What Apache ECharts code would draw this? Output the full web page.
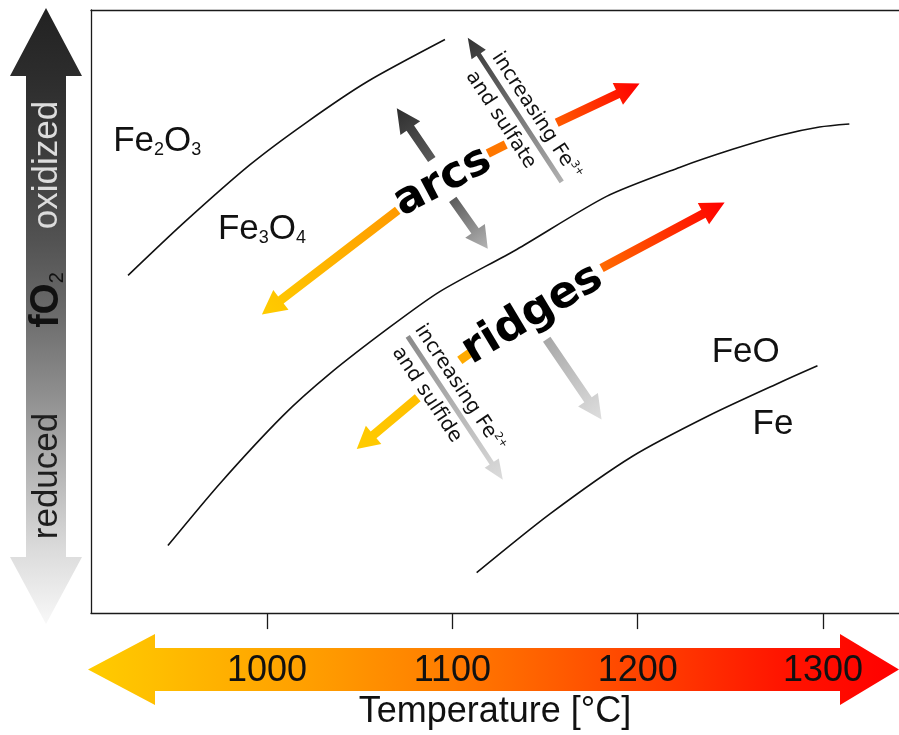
<!DOCTYPE html>
<html>
<head>
<meta charset="utf-8">
<script src="https://cdn.jsdelivr.net/npm/echarts@6/dist/echarts.min.js"></script>
<style>
  html, body { margin: 0; padding: 0; background: #ffffff; }
  #chart { width: 899px; height: 735px; }
</style>
</head>
<body>
<div id="chart"></div>
<script>
// Iron–oxygen buffer curves in temperature / relative log fO2 space.
// y axis: relative log fO2, 0 = most reduced, 100 = most oxidized.
const tempTicks = [1000, 1100, 1200, 1300];
const tempRange = [905, 1341];
const fo2Range = [0, 100];

// Buffer curves, points are [temperature °C, relative log fO2]
const hmBuffer = [[925, 56.0], [955, 64.7], [991, 74.4], [1021, 81.3], [1054, 88.1], [1096, 95.1]];
const mwBuffer = [[946.5, 11.2], [974.6, 21.5], [1008.5, 32.7], [1033.9, 39.7], [1066.2, 47.4], [1093.2, 53.3],
                  [1134.7, 60.3], [1183.2, 69.1], [1222.6, 73.9], [1251.2, 76.9], [1276.5, 79.2], [1298.1, 80.6], [1314.2, 81.1]];
const wiBuffer = [[1113.1, 6.7], [1152.5, 16.4], [1197.2, 26.0], [1238.8, 32.8], [1276.5, 38.2], [1297.0, 41.0]];

// Stability field names: [rich text, T, fO2]
const phaseLabels = [
  ['{m|Fe}{s|2}{m|O}{s|3}', 917.0, 78.3],
  ['{m|Fe}{s|3}{m|O}{s|4}', 973.5, 63.7],
  ['{m|FeO}', 1239.9, 43.2],
  ['{m|Fe}', 1262.0, 31.3]
];

// Magma-type labels: [text, T, fO2, rotation in degrees]
const settingLabels = [
  ['arcs', 1094.8, 71.5, 28],
  ['ridges', 1143.3, 49.5, 31]
];

// Trend arrows: [name, tail T, tail fO2, tip T, tip fO2]
const trendArrows = [
  ['arcsHot',      1156.3, 81.3, 1201.0, 87.8],
  ['arcsCool',     1070.5, 66.8,  997.2, 49.5],
  ['arcsOx',       1088.9, 75.2, 1070.0, 83.7],
  ['arcsRed',      1100.2, 68.6, 1119.1, 60.4],
  ['fe3',          1159.0, 71.5, 1108.3, 95.4],
  ['ridgesHot',    1180.5, 57.2, 1246.9, 68.1],
  ['ridgesCool',   1081.3, 35.7, 1048.4, 27.2],
  ['ridgesRed',    1150.9, 45.4, 1180.5, 32.1],
  ['fe2',          1075.9, 45.9, 1127.2, 22.1]
];
// Short connector dashes: [name, T0, fO2_0, T1, fO2_1]
const connectors = [
  ['arcsDash',   1119.1, 76.2, 1128.8, 77.7],
  ['ridgesDash', 1104.0, 41.9, 1110.4, 43.3]
];
// Text along the speciation arrows: [text, superscript, T, fO2, arrow name]
const arrowNotes = [
  ['increasing Fe', '3+', 1145.5, 82.4, 'fe3'],
  ['and sulfate',   '',   1126.1, 81.8, 'fe3'],
  ['increasing Fe', '2+', 1104.0, 37.3, 'fe2'],
  ['and sulfide',   '',   1086.2, 36.2, 'fe2']
];

// ---- styles ----
const arrowStyle = {
  arcsHot:    { c: ['#ff5a00', '#ff0000'], bw: 9, hl: 24, hw: 24 },
  arcsCool:   { c: ['#ff9a00', '#ffcc00'], bw: 9, hl: 24, hw: 25 },
  arcsOx:     { c: ['#5a5a5a', '#2e2e2e'], bw: 9, hl: 24, hw: 24 },
  arcsRed:    { c: ['#5c5c5c', '#b4b4b4'], bw: 9, hl: 22, hw: 24 },
  fe3:        { c: ['#b0b0b0', '#333333'], bw: 5, hl: 20, hw: 17 },
  ridgesHot:  { c: ['#ff6a00', '#ff0000'], bw: 9, hl: 24, hw: 24 },
  ridgesCool: { c: ['#ffbe00', '#ffcc00'], bw: 9, hl: 22, hw: 24 },
  ridgesRed:  { c: ['#a8a8a8', '#dedede'], bw: 9, hl: 24, hw: 24 },
  fe2:        { c: ['#8a8a8a', '#dcdcdc'], bw: 5, hl: 20, hw: 17 },
  arcsDash:   { c: ['#ff7700', '#ff7700'], bw: 9 },
  ridgesDash: { c: ['#ffaa00', '#ffaa00'], bw: 9 }
};

const GRID = { left: 91, top: 10, right: 0, bottom: 111 };
const FRAME = '#1a1a1a';
const DIN = '"Liberation Sans", "DejaVu Sans", sans-serif';
const DIN_NARROW = '"Liberation Sans Narrow", "Liberation Sans", sans-serif';
const SANS = '"DejaVu Sans", sans-serif';

const chart = echarts.init(document.getElementById('chart'), null, { renderer: 'canvas' });

function bufferSeries(data) {
  return {
    type: 'line', data: data, smooth: 0.25, symbol: 'none', silent: true,
    lineStyle: { color: '#111111', width: 1.6 }, z: 3
  };
}

const hiddenAxisParts = { axisTick: { show: false }, axisLabel: { show: false }, splitLine: { show: false } };

chart.setOption({
  animation: false,
  grid: { left: GRID.left, top: GRID.top, right: GRID.right, bottom: GRID.bottom, show: false },
  xAxis: [{
    type: 'value', min: tempRange[0], max: tempRange[1], position: 'bottom', z: 10,
    axisLine: { show: true, lineStyle: { color: FRAME, width: 1.3 } },
    axisTick: { show: true, customValues: tempTicks, length: 16, lineStyle: { color: FRAME, width: 1.3 } },
    axisLabel: { show: true, customValues: tempTicks, margin: 40, fontFamily: DIN_NARROW, fontSize: 36, color: '#111111',
                 formatter: v => String(v) },
    splitLine: { show: false },
    name: 'Temperature [°C]', nameLocation: 'middle', nameGap: 80,
    nameTextStyle: { fontFamily: DIN, fontSize: 36, color: '#111111' }
  }, Object.assign({
    type: 'value', min: tempRange[0], max: tempRange[1], position: 'top',
    axisLine: { show: true, lineStyle: { color: FRAME, width: 1.3 } }
  }, hiddenAxisParts)],
  yAxis: Object.assign({
    type: 'value', min: fo2Range[0], max: fo2Range[1], position: 'left',
    axisLine: { show: true, lineStyle: { color: FRAME, width: 1.3 } }
  }, hiddenAxisParts),
  series: [bufferSeries(hmBuffer), bufferSeries(mwBuffer), bufferSeries(wiBuffer)]
});

const toPx = (t, f) => chart.convertToPixel({ xAxisIndex: 0, yAxisIndex: 0 }, [t, f]);
const deg = Math.PI / 180;

function grad(x0, y0, x1, y1, stops) {
  return new echarts.graphic.LinearGradient(x0, y0, x1, y1,
    stops.map((c, i) => ({ offset: i / (stops.length - 1), color: c })), true);
}

function arrowPolygon(a, b, bw, hl, hw) {
  const dx = b[0] - a[0], dy = b[1] - a[1];
  const len = Math.hypot(dx, dy);
  const ux = dx / len, uy = dy / len, nx = -uy, ny = ux;
  const bx = b[0] - ux * hl, by = b[1] - uy * hl;
  return [
    [a[0] + nx * bw / 2, a[1] + ny * bw / 2],
    [bx + nx * bw / 2, by + ny * bw / 2],
    [bx + nx * hw / 2, by + ny * hw / 2],
    [b[0], b[1]],
    [bx - nx * hw / 2, by - ny * hw / 2],
    [bx - nx * bw / 2, by - ny * bw / 2],
    [a[0] - nx * bw / 2, a[1] - ny * bw / 2]
  ];
}

const elements = [];

// Temperature scale arrow below the plot
const tA = { x0: 88, x1: 899, hx0: 155, hx1: 840, cy: 669.5, bh: 43, hh: 71 };
elements.push({
  type: 'polygon', z: 1, silent: true,
  shape: { points: [
    [tA.x0, tA.cy], [tA.hx0, tA.cy - tA.hh / 2], [tA.hx0, tA.cy - tA.bh / 2], [tA.hx1, tA.cy - tA.bh / 2],
    [tA.hx1, tA.cy - tA.hh / 2], [tA.x1, tA.cy], [tA.hx1, tA.cy + tA.hh / 2], [tA.hx1, tA.cy + tA.bh / 2],
    [tA.hx0, tA.cy + tA.bh / 2], [tA.hx0, tA.cy + tA.hh / 2]
  ] },
  style: { fill: grad(tA.x0, 0, tA.x1, 0, ['#ffcc00', '#ffb400', '#ff9c00', '#ff8000', '#ff5e00', '#ff3a00', '#ff1400', '#ff0000']) }
});

// fO2 arrow on the left
const fA = { cx: 46, y0: 8, y1: 624, hy0: 76, hy1: 557, bw: 40, hw: 72 };
elements.push({
  type: 'polygon', z: 1, silent: true,
  shape: { points: [
    [fA.cx, fA.y0], [fA.cx + fA.hw / 2, fA.hy0], [fA.cx + fA.bw / 2, fA.hy0], [fA.cx + fA.bw / 2, fA.hy1],
    [fA.cx + fA.hw / 2, fA.hy1], [fA.cx, fA.y1], [fA.cx - fA.hw / 2, fA.hy1], [fA.cx - fA.bw / 2, fA.hy1],
    [fA.cx - fA.bw / 2, fA.hy0], [fA.cx - fA.hw / 2, fA.hy0]
  ] },
  style: { fill: grad(0, fA.y0, 0, fA.y1, ['#222222', '#2e2e2e', '#3e3e3e', '#525252', '#6c6c6c', '#8e8e8e', '#b4b4b4', '#dadada', '#f8f8f8']) }
});
elements.push({
  type: 'text', z: 5, silent: true, x: 47, y: 165, rotation: 90 * deg,
  style: { text: 'oxidized', fill: '#dcdcdc', font: '35px ' + DIN, align: 'center', verticalAlign: 'middle', textAlign: 'center', textVerticalAlign: 'middle' }
});
elements.push({
  type: 'text', z: 5, silent: true, x: 47, y: 300, rotation: 90 * deg,
  style: {
    text: '{b|fO}{s|2}', align: 'center', verticalAlign: 'middle', textAlign: 'center', textVerticalAlign: 'middle',
    rich: {
      b: { font: 'bold 40px ' + DIN, fill: '#111111', lineHeight: 40 },
      s: { font: '20px ' + DIN, fill: '#111111', lineHeight: 10, verticalAlign: 'bottom' }
    }
  }
});
elements.push({
  type: 'text', z: 5, silent: true, x: 47, y: 476, rotation: 90 * deg,
  style: { text: 'reduced', fill: '#1e1e1e', font: '35px ' + DIN, align: 'center', verticalAlign: 'middle', textAlign: 'center', textVerticalAlign: 'middle' }
});

// Phase field labels
phaseLabels.forEach(([txt, t, f]) => {
  const p = toPx(t, f);
  elements.push({
    type: 'text', z: 6, silent: true, x: p[0], y: p[1],
    style: {
      text: txt, align: 'left', verticalAlign: 'middle', textAlign: 'left', textVerticalAlign: 'middle',
      rich: {
        m: { font: '35px ' + DIN, fill: '#111111', lineHeight: 36 },
        s: { font: '18px ' + DIN, fill: '#111111', lineHeight: 10, verticalAlign: 'bottom' }
      }
    }
  });
});

// Trend arrows
const arrowPx = {};
trendArrows.forEach(([name, t0, f0, t1, f1]) => {
  const a = toPx(t0, f0), b = toPx(t1, f1);
  arrowPx[name] = [a, b];
  const s = arrowStyle[name];
  elements.push({
    type: 'polygon', z: 4, silent: true,
    shape: { points: arrowPolygon(a, b, s.bw, s.hl, s.hw) },
    style: { fill: grad(a[0], a[1], b[0], b[1], s.c) }
  });
});
connectors.forEach(([name, t0, f0, t1, f1]) => {
  const a = toPx(t0, f0), b = toPx(t1, f1);
  const s = arrowStyle[name];
  elements.push({
    type: 'line', z: 4, silent: true,
    shape: { x1: a[0], y1: a[1], x2: b[0], y2: b[1] },
    style: { stroke: s.c[0], lineWidth: s.bw, lineCap: 'butt' }
  });
});

// Notes written along the Fe3+/Fe2+ arrows
arrowNotes.forEach(([txt, sup, t, f, ref]) => {
  const p = toPx(t, f);
  const [a, b] = arrowPx[ref];
  // text reads downward along the arrow
  const top = a[1] < b[1] ? a : b, bot = a[1] < b[1] ? b : a;
  const rot = Math.atan2(-(bot[1] - top[1]), bot[0] - top[0]);
  elements.push({
    type: 'text', z: 6, silent: true, x: p[0], y: p[1], rotation: rot,
    style: {
      text: '{n|' + txt + '}' + (sup ? '{sup|' + sup + '}' : ''),
      align: 'center', verticalAlign: 'middle', textAlign: 'center', textVerticalAlign: 'middle',
      rich: {
        n: { font: '20px ' + SANS, fill: '#111111', lineHeight: 22 },
        sup: { font: '11px ' + SANS, fill: '#111111', lineHeight: 8, verticalAlign: 'top' }
      }
    }
  });
});

// Tectonic setting labels
settingLabels.forEach(([txt, t, f, r]) => {
  const p = toPx(t, f);
  elements.push({
    type: 'text', z: 7, silent: true, x: p[0], y: p[1], rotation: r * deg,
    style: { text: txt, fill: '#000000', font: 'bold 44px ' + SANS, align: 'center', verticalAlign: 'middle', textAlign: 'center', textVerticalAlign: 'middle' }
  });
});

chart.setOption({ graphic: { elements: elements } });
</script>
</body>
</html>
